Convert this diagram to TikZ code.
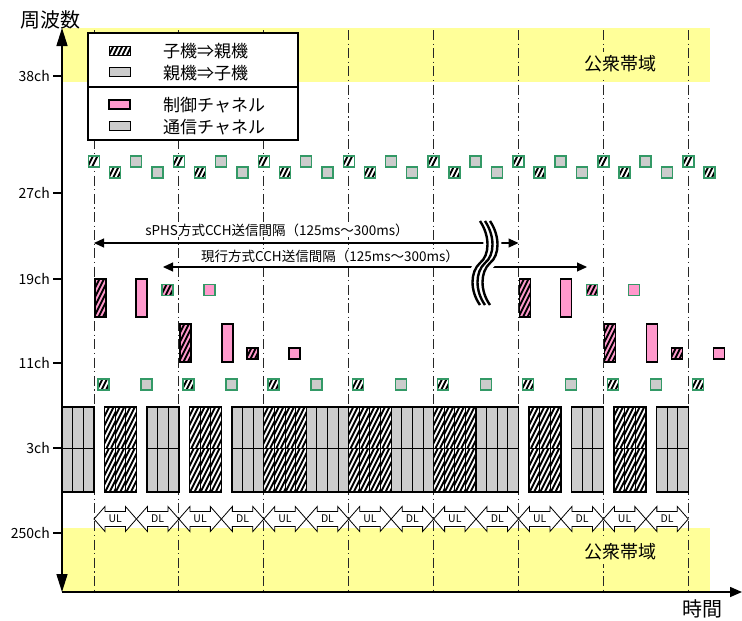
\documentclass[tikz,border=0pt]{standalone}
\usepackage{fontspec}
\setmainfont{Noto Sans CJK JP}
\usetikzlibrary{arrows.meta}
\definecolor{yel}{HTML}{FFFF99}
\definecolor{pnk}{HTML}{FF99CC}
\definecolor{gry}{HTML}{CCCCCC}
\definecolor{grn}{HTML}{339966}
% hatched box: x1 y1 x2 y2 fill border-style
\newcommand\hatchbox[6]{%
  \begin{scope}
    \clip (#1,#2) rectangle (#3,#4);
    \fill[#5] (#1,#2) rectangle (#3,#4);
    \pgfmathsetmacro\hbD{(#4-#2)*0.5}
    \pgfmathsetmacro\hbR{(#3-#1)+\hbD+4.5}
    \foreach \hbT in {0,4.5,...,\hbR} {
      \draw[black,line width=1.9pt] (#1-\hbD+\hbT,#4) -- (#1+\hbT,#2);
    }
  \end{scope}
  \draw[#6] (#1,#2) rectangle (#3,#4);
}
\begin{document}
\begin{tikzpicture}[x=1pt,y=-1pt,
  dlc/.style={fill=gry,draw=black,line width=0.9pt},
  cellb/.style={draw=black,line width=0.9pt},
  grp/.style={draw=black,line width=1.3pt},
  grnb/.style={draw=grn,line width=1.4pt},
  blkb/.style={draw=black,line width=1.2pt},
  gsqg/.style={fill=gry,draw=grn,line width=1.4pt},
  pkr/.style={fill=pnk,draw=black,line width=1.2pt},
  pkg/.style={fill=pnk,draw=grn,line width=1.4pt},
  ddot/.style={draw=black!85,line width=1pt,dash pattern=on 10pt off 3.5pt on 1.2pt off 3.5pt},
  ularr/.style={fill=white,draw=black,line width=0.8pt},
  tick/.style={font=\fontsize{14}{14}\selectfont,anchor=east,inner sep=0pt},
  band/.style={fill=yel,inner sep=4pt,font=\fontsize{18}{18}\selectfont},
  leg/.style={anchor=west,inner sep=0pt,font=\fontsize{17}{17}\selectfont},
  meas/.style={fill=white,inner sep=1pt,font=\fontsize{13.5}{13.5}\selectfont},
  tip/.style={{Triangle[length=10pt,width=9pt]}-{Triangle[length=10pt,width=9pt]}},
  udl/.style={font=\fontsize{10.5}{10.5}\selectfont,inner sep=0pt},
]
\useasboundingbox (0,0) rectangle (742,621);
% yellow public bands
\fill[yel] (62,28) rectangle (710,82);
\fill[yel] (62,528) rectangle (710,592);
% dash-dot time lines
\foreach \k in {0,...,7} {
  \pgfmathsetmacro\L{94+84.9*\k}
  \draw[ddot] (\L,30) -- (\L,592);
}
\node[band] (pub1) at (620,64) {公衆帯域};
\node[band] (pub2) at (620,552) {公衆帯域};
% legend
\draw[fill=white,line width=1.2pt] (88,33) rectangle (298,140);
\draw[line width=1.2pt] (88,87) -- (298,87);
\hatchbox{109}{46}{130}{55}{white}{cellb}
\draw[dlc] (109,67) rectangle (130,76);
\draw[pkr] (109,100) rectangle (130,109);
\draw[dlc] (109,121) rectangle (130,130);
\node[leg] (l1) at (163,51) {子機⇒親機};
\node[leg] (l2) at (163,73) {親機⇒子機};
\node[leg] (l3) at (163,105) {制御チャネル};
\node[leg] (l4) at (163,127) {通信チャネル};
% control channel squares
\foreach \k in {0,...,7} {
  \pgfmathsetmacro\L{94+84.9*\k}
  \hatchbox{\L-5.5}{156}{\L+5.5}{167}{white}{grnb}
  \hatchbox{\L+15.5}{167}{\L+26.5}{178}{white}{grnb}
  \hatchbox{\L+4}{379}{\L+15}{390}{white}{grnb}
}
\foreach \k in {0,...,6} {
  \pgfmathsetmacro\L{94+84.9*\k}
  \draw[gsqg] (\L+36.5,156) rectangle (\L+47.5,167);
  \draw[gsqg] (\L+58,167) rectangle (\L+69,178);
  \draw[gsqg] (\L+47,379) rectangle (\L+58,390);
}
% control channel bursts 19ch
\foreach \L in {94,518.5} {
  \hatchbox{\L+1}{279}{\L+12}{317}{pnk}{blkb}
  \draw[pkr] (\L+42,279) rectangle (\L+53,317);
  \hatchbox{\L+68}{284.5}{\L+79}{295.5}{pnk}{grnb}
  \draw[pkg] (\L+110,284.5) rectangle (\L+121,295.5);
}
% control channel bursts 11ch
\foreach \L in {178.9,603.4} {
  \hatchbox{\L+1}{324}{\L+12}{362}{pnk}{blkb}
  \draw[pkr] (\L+43,324) rectangle (\L+54,362);
  \hatchbox{\L+68}{348}{\L+79}{359}{pnk}{blkb}
  \draw[pkr] (\L+110,348) rectangle (\L+121,359);
}
% traffic channel slots
\foreach \h/\jz/\u in {-1/1/0,0/1/1,1/1/0,2/1/1,3/1/0,4/0/1,5/0/0,6/0/1,7/0/0,8/0/1,9/0/0,10/1/1,11/1/0,12/1/1,13/1/0} {
  \pgfmathsetmacro\S{94+42.45*\h}
  \foreach \j in {\jz,...,3} {
    \pgfmathsetmacro\xa{\S+10.6125*\j}
    \pgfmathsetmacro\xb{\xa+10.6125}
    \ifnum\u=1
      \hatchbox{\xa}{407}{\xb}{448}{white}{cellb}
      \hatchbox{\xa}{448}{\xb}{492}{white}{cellb}
    \else
      \draw[dlc] (\xa,407) rectangle (\xb,448);
      \draw[dlc] (\xa,448) rectangle (\xb,492);
    \fi
  }
  \pgfmathsetmacro\xs{\S+10.6125*\jz}
  \pgfmathsetmacro\xe{\S+42.45}
  \draw[grp] (\xs,407) rectangle (\xe,492);
}
% UL / DL double arrows
\foreach \h in {0,...,13} {
  \pgfmathsetmacro\a{94+42.45*\h}
  \pgfmathsetmacro\b{\a+42.45}
  \pgfmathsetmacro\c{\a+21.225}
  \draw[ularr] (\a,519) -- (\a+11,506.5) -- (\a+11,511.5) -- (\b-11,511.5) -- (\b-11,506.5) -- (\b,519)
     -- (\b-11,531.5) -- (\b-11,526.5) -- (\a+11,526.5) -- (\a+11,531.5) -- cycle;
  \pgfmathtruncatemacro\ev{mod(\h,2)}
  \ifnum\ev=0
    \node[udl] (ud\h) at (\c,518.5) {UL};
  \else
    \node[udl] (ud\h) at (\c,518.5) {DL};
  \fi
}
% axes
\coordinate (O) at (62,592);
\coordinate (Ytop) at (62,28);
\coordinate (Xend) at (742,592);
\draw[line width=1.5pt,{Triangle[length=18pt,width=11pt]}-{Triangle[length=18pt,width=11pt]}] (O) -- (Ytop);
\draw[line width=1.5pt,-{Triangle[length=12pt,width=10pt]}] (O) -- (Xend);
\node[font=\fontsize{20}{20}\selectfont,inner sep=0pt] (fq) at (50,20) {周波数};
\node[font=\fontsize{20}{20}\selectfont,inner sep=0pt] (tm) at (702,609) {時間};
% ticks
\foreach \y/\t in {76/38ch,193/27ch,279/19ch,363/11ch,448/3ch,533/250ch} {
  \draw[line width=1.5pt] (53,\y) -- (62,\y);
  \node[tick] at (50,\y) {\t};
}
% measurement arrows
\coordinate (s1) at (94,243);
\coordinate (s2) at (518.5,243);
\coordinate (g1) at (163,267);
\coordinate (g2) at (587,267);
\draw[line width=1.1pt,tip] (s1) -- (s2);
\draw[line width=1.1pt,tip] (g1) -- (g2);
\node[meas] (ts) at (277,230) {sPHS方式CCH送信間隔（125ms～300ms）};
\node[meas] (tg) at (330,256) {現行方式CCH送信間隔（125ms～300ms）};
% break mark
\draw[white,line width=18pt] (485,221) .. controls (495,236) and (495,255) .. (485,263) .. controls (475,272) and (475,291) .. (485,305);
\foreach \dx in {-5,0,5} {
  \draw[line width=2.4pt] (485+\dx,221) .. controls (495+\dx,236) and (495+\dx,255) .. (485+\dx,263) .. controls (475+\dx,272) and (475+\dx,291) .. (485+\dx,305);
}
\end{tikzpicture}
\end{document}
